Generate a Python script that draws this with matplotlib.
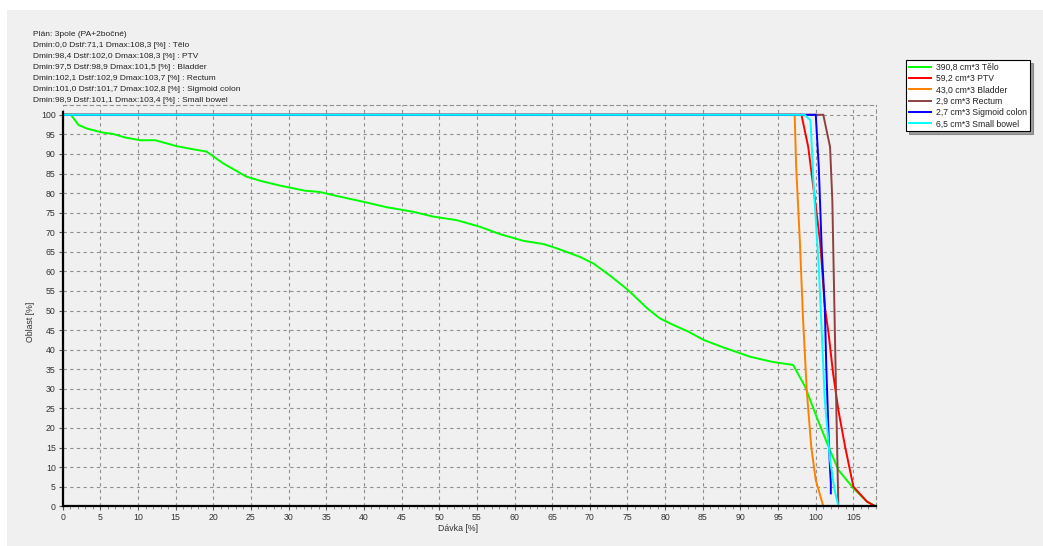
import matplotlib
matplotlib.use("Agg")
import matplotlib.pyplot as plt
from matplotlib.patches import Rectangle
from matplotlib.ticker import MultipleLocator

plt.rcParams['font.family'] = ['Liberation Sans', 'DejaVu Sans']

# DVH curves: dose [%] vs. volume [%]
telo_dose = [0, 1.1, 2.1, 3.2, 5.2, 6.7, 8.3, 10.3, 12.3, 15.1, 17.3, 19.1, 21.3, 24.4,
             26.5, 28.9, 32.2, 34.1, 37.0, 39.9, 43.0, 46.6, 49.2, 52.3, 55.4, 58.1,
             61.2, 63.8, 65.6, 68.7, 70.5, 72.9, 75.1, 77.6, 79.3, 81.0, 83.1, 85.1,
             87.7, 91.3, 94.2, 97.0, 98.6, 100.1, 101.7, 103.0, 105.0, 106.8, 108.0]
telo_vol = [100, 100, 97.4, 96.5, 95.5, 95.1, 94.2, 93.5, 93.5, 92.0, 91.2, 90.6, 87.6, 84.2,
            83.0, 81.9, 80.6, 80.3, 79.0, 77.8, 76.4, 75.2, 74.0, 73.1, 71.4, 69.5,
            67.8, 67.0, 65.9, 63.7, 62.0, 58.6, 55.2, 50.6, 48.0, 46.4, 44.6, 42.5,
            40.6, 38.2, 36.9, 36.1, 30.5, 22.9, 15.2, 9.3, 4.6, 1.2, 0]

ptv_dose = [0, 98.1, 99.0, 99.9, 100.6, 101.2, 101.7, 102.3, 103.0, 103.9, 105.0, 106.8, 107.9]
ptv_vol = [100, 100, 91.8, 78.2, 67.2, 51.0, 44.2, 34.0, 24.6, 15.2, 5.0, 1.2, 0]

bladder_dose = [0, 97.2, 97.4, 97.9, 98.3, 98.8, 99.4, 100.0, 101.0]
bladder_vol = [100, 100, 86.7, 67.2, 48.4, 29.7, 15.2, 6.7, 0]

rectum_dose = [0, 101.0, 101.9, 102.2, 102.5, 102.8, 103.0]
rectum_vol = [100, 100, 91.8, 78.2, 48.4, 18.6, 0]

sigmoid_dose = [0, 100.0, 100.4, 100.8, 101.2, 101.4, 101.7, 101.9, 102.0, 102.0]
sigmoid_vol = [100, 100, 86.7, 65.4, 51.0, 35.6, 18.6, 9.3, 6.0, 3.3]

bowel_dose = [0, 98.5, 98.8, 99.3, 99.7, 100.4, 100.8, 101.2, 101.9, 102.5, 103.0]
bowel_vol = [100, 100, 99.5, 98.6, 82.5, 61.2, 44.2, 27.1, 11.8, 4.2, 0]

labels = ['390,8 cm*3 Tělo', '59,2 cm*3 PTV', '43,0 cm*3 Bladder',
          '2,9 cm*3 Rectum', '2,7 cm*3 Sigmoid colon', '6,5 cm*3 Small bowel']
colors = ['#00ff00', '#ff0000', '#ff8000', '#904040', '#0000ff', '#00ffff']

header = ['Plán: 3pole (PA+2bočné)',
          'Dmin:0,0 Dstř:71,1 Dmax:108,3 [%] : Tělo',
          'Dmin:98,4 Dstř:102,0 Dmax:108,3 [%] : PTV',
          'Dmin:97,5 Dstř:98,9 Dmax:101,5 [%] : Bladder',
          'Dmin:102,1 Dstř:102,9 Dmax:103,7 [%] : Rectum',
          'Dmin:101,0 Dstř:101,7 Dmax:102,8 [%] : Sigmoid colon',
          'Dmin:98,9 Dstř:101,1 Dmax:103,4 [%] : Small bowel']

W, H = 1043, 546
fig = plt.figure(figsize=(W / 100, H / 100), dpi=100, facecolor='white')
bg = Rectangle((7 / W, 0), 1 - 7 / W, 1 - 10 / H, transform=fig.transFigure,
               facecolor='#f0f0f0', edgecolor='none', zorder=-10)
fig.patches.append(bg)

ax = fig.add_axes([62.7 / W, 1 - 506.3 / H, (876 - 62.7) / W, (506.3 - 105) / H])
ax.set_facecolor('#f0f0f0')

curves = [(telo_dose, telo_vol), (ptv_dose, ptv_vol), (bladder_dose, bladder_vol),
          (rectum_dose, rectum_vol), (sigmoid_dose, sigmoid_vol), (bowel_dose, bowel_vol)]
for (d, v), c, lab in zip(curves, colors, labels):
    ax.plot(d, v, color=c, lw=1.4, label=lab, solid_joinstyle='miter')

ax.set_xlim(0, 108)
ax.set_ylim(0, 102.5)
ax.xaxis.set_major_locator(MultipleLocator(5))
ax.xaxis.set_minor_locator(MultipleLocator(1))
ax.yaxis.set_major_locator(MultipleLocator(5))
ax.grid(True, which='major', color='#909090', ls=(0, (3, 3)), lw=0.8)

for s in ['left', 'bottom']:
    ax.spines[s].set_linewidth(1.6)
    ax.spines[s].set_color('black')
ax.spines['left'].set_bounds(0, 100.7)
for s in ['top', 'right']:
    ax.spines[s].set_color('#909090')
    ax.spines[s].set_linestyle((0, (3, 3)))
    ax.spines[s].set_linewidth(0.8)

ax.tick_params(which='major', length=3, width=0.8, color='#555555',
               labelsize=6.3, labelcolor='#333333', pad=2)
ax.tick_params(which='minor', length=2, width=0.6, color='#777777')

ax.set_xlabel('Dávka [%]', fontsize=6.3, color='#333333')
ax.set_ylabel('Oblast [%]', fontsize=6.3, color='#333333')
ax.xaxis.set_label_coords(0.486, -0.045)
ax.yaxis.set_label_coords(-0.034, 0.46)

for i, line in enumerate(header):
    fig.text(33 / W, 1 - (34.3 + 11 * i) / H, line, fontsize=6, color='#222222',
             va='center', ha='left')

leg = fig.legend(loc='upper left', bbox_to_anchor=(906 / W, 1 - 60 / H),
                 fontsize=6.2, frameon=True, fancybox=False, shadow=True,
                 edgecolor='black', facecolor='white', framealpha=1,
                 handlelength=2.6, handletextpad=0.6, labelspacing=0.27,
                 borderpad=0.32, borderaxespad=0)
leg.get_frame().set_linewidth(0.8)
for t in leg.get_texts():
    t.set_color('#222222')

fig.savefig('out.png', dpi=100, facecolor=fig.get_facecolor())
